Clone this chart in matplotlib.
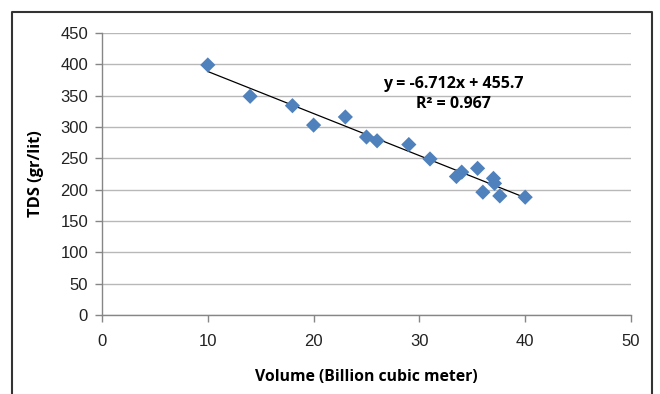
import numpy as np
import matplotlib.pyplot as plt
from matplotlib.lines import Line2D

# data
volume = [10, 14, 18, 20, 23, 25, 26, 29, 31, 33.5, 34, 35.5, 36, 37, 37.1, 37.6, 40]
tds = [399, 349, 334, 303, 316, 284, 278, 272, 249, 221, 228, 234, 196, 218, 210, 190, 188]
slope, intercept = -6.712, 455.7
eq_text = "y = -6.712x + 455.7"
r2_text = "R² = 0.967"
xticks = [0, 10, 20, 30, 40, 50]
yticks = [0, 50, 100, 150, 200, 250, 300, 350, 400, 450]

fig = plt.figure(figsize=(6.6, 3.94), dpi=100)
ax = fig.add_axes([102/660, 1 - 315/394, (631-102)/660, (315-33)/394])

ax.yaxis.grid(True, color='#b8b8b8', linewidth=1.0)
ax.set_axisbelow(True)

xfit = np.array([min(volume), max(volume)])
ax.plot(xfit, slope*xfit + intercept, color='black', linewidth=0.9, zorder=2)
ax.scatter(volume, tds, marker='D', s=60, color='#4F81BD', edgecolors='none', zorder=3)

ax.set_xlim(0, 50)
ax.set_ylim(0, 450)
ax.set_xticks(xticks)
ax.set_yticks(yticks)

for s in ['top', 'right']:
    ax.spines[s].set_visible(False)
for s in ['left', 'bottom']:
    ax.spines[s].set_color('#868686')
    ax.spines[s].set_linewidth(1.0)
ax.tick_params(colors='#868686', length=5, width=1.0, labelcolor='#222222',
               labelsize=12)
ax.tick_params(axis='x', pad=9)
ax.tick_params(axis='y', pad=5)
for lab in ax.get_xticklabels() + ax.get_yticklabels():
    lab.set_family('Liberation Sans')

ax.set_xlabel("Volume (Billion cubic meter)", fontsize=11.3, fontweight='bold',
              family='Open Sans', labelpad=14)
ax.set_ylabel("TDS (gr/lit)", fontsize=11.8, fontweight='bold',
              family='Open Sans', labelpad=12)

ax.text(33.2, 368, eq_text, ha='center', va='center', fontsize=11.5,
        fontweight='bold', family='Open Sans')
ax.text(33.2, 337, r2_text, ha='center', va='center', fontsize=11.5,
        fontweight='bold', family='Open Sans')

# outer chart frame
fx = [12/660, 12/660, 652/660, 652/660]
fy = [0, 1 - 12/394, 1 - 12/394, 0]
fig.add_artist(Line2D(fx, fy, color='#333333', linewidth=1.5,
                      transform=fig.transFigure))

fig.savefig("out.png", dpi=100)
